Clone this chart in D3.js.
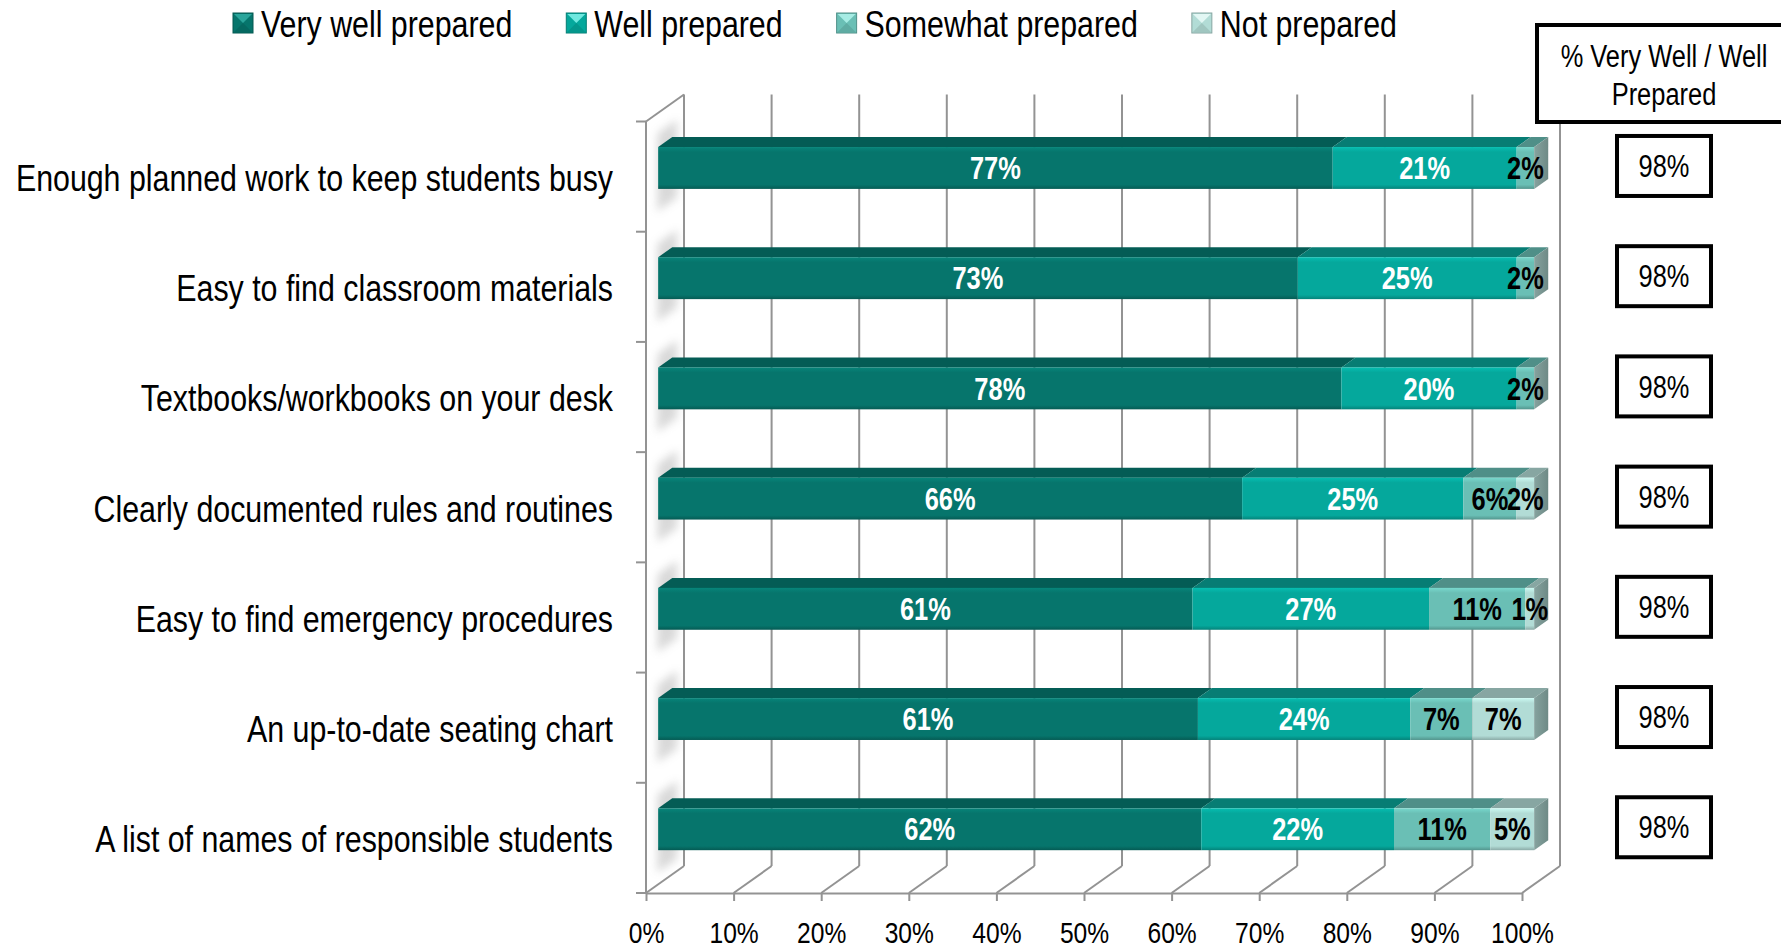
<!DOCTYPE html>
<html>
<head>
<meta charset="utf-8">
<title>Classroom preparedness</title>
<style>
  body { margin: 0; background: #fff; }
  svg { display: block; font-family: "Liberation Sans Narrow", "Arial Narrow", "Liberation Sans", Arial, sans-serif; }
  .grid { stroke: #939393; stroke-width: 2; fill: none; }
  .cat { font-size: 37px; fill: #000; }
  .seg-label { font-size: 31px; font-weight: 700; }
  .legend text { font-size: 37px; fill: #000; }
  .box rect { fill: #fff; stroke: #000; stroke-width: 4; }
  .box text { font-size: 31px; fill: #000; }
  .x-axis text { font-size: 30px; fill: #000; font-family: inherit; }
  .x-axis line, .x-axis path { stroke: #939393; stroke-width: 2; }
</style>
</head>
<body>
<script src="https://cdn.jsdelivr.net/npm/d3@7"></script>
<script>

// ---- data ----
var categories = [
  "Enough planned work to keep students busy",
  "Easy to find classroom materials",
  "Textbooks/workbooks on your desk",
  "Clearly documented rules and routines",
  "Easy to find emergency procedures",
  "An up-to-date seating chart",
  "A list of names of responsible students"
];
var seriesNames = ["Very well prepared", "Well prepared", "Somewhat prepared", "Not prepared"];
var veryWell    = [77, 73, 78, 66, 61, 61, 62];
var well        = [21, 25, 20, 25, 27, 24, 22];
var somewhat    = [2, 2, 2, 6, 11, 7, 11];
var notPrepared = [0, 0, 0, 2, 1, 7, 5];
var combined    = [98, 98, 98, 98, 98, 98, 98];
var boxTitle    = ["% Very Well / Well", "Prepared"];

// ---- styles ----
var frontColors = ["#06756c", "#05a89c", "#6abfb5", "#b2dcd6"];
var topColors   = ["#045c55", "#077d74", "#4f8f88", "#87a6a2"];
var markTop     = ["#2aa59b", "#6fe8df", "#a6ece4", "#e2f7f4"];
var sideColor   = "#6e8a86";
var narrow = 0.82;   // no condensed face installed, so squeeze the regular one

var width = 1781, height = 947;
var depthX = 38, depthY = 27;   // projection of the back wall
var z0 = 0.32, z1 = 0.69;       // bar depth range

var rows = categories.map(function(c, i) {
  var r = { cat: c };
  r[seriesNames[0]] = veryWell[i];
  r[seriesNames[1]] = well[i];
  r[seriesNames[2]] = somewhat[i];
  r[seriesNames[3]] = notPrepared[i];
  return r;
});

var stack = d3.stack().keys(seriesNames).offset(d3.stackOffsetExpand);
var series = stack(rows);

var x = d3.scaleLinear().domain([0, 1]).range([646, 1522]);
var y = d3.scaleBand().domain(categories).range([121.5, 893]).padding(0);
var barH = y.bandwidth() * 0.38;

function px(v, z) { return x(v) + depthX * z; }
function py(yy, z) { return yy - depthY * z; }
function pts(a) { return a.map(function(p) { return p.join(","); }).join(" "); }

var svg = d3.select("body").append("svg")
    .attr("width", width)
    .attr("height", height);

var defs = svg.append("defs");
frontColors.forEach(function(c, i) {
  var g = defs.append("linearGradient").attr("id", "front" + i)
      .attr("x1", 0).attr("y1", 0).attr("x2", 0).attr("y2", 1);
  g.append("stop").attr("offset", "0%").attr("stop-color", d3.color(c).brighter(0.35));
  g.append("stop").attr("offset", "12%").attr("stop-color", c);
  g.append("stop").attr("offset", "90%").attr("stop-color", c);
  g.append("stop").attr("offset", "100%").attr("stop-color", d3.color(c).darker(0.7));
});
var sg = defs.append("linearGradient").attr("id", "side")
    .attr("x1", 0).attr("y1", 0).attr("x2", 1).attr("y2", 0);
sg.append("stop").attr("offset", "0%").attr("stop-color", "#86a39f");
sg.append("stop").attr("offset", "100%").attr("stop-color", sideColor);
defs.append("filter").attr("id", "blur")
    .attr("x", "-50%").attr("y", "-50%").attr("width", "200%").attr("height", "200%")
  .append("feGaussianBlur").attr("stdDeviation", 4);

// ---- walls & grid ----
var grid = svg.append("g");
var ticks = x.ticks(10);
var yTop = y.range()[0], yBot = y.range()[1];

// back wall verticals
grid.selectAll(".back").data(ticks).enter().append("line")
    .attr("class", "grid")
    .attr("x1", function(d) { return px(d, 1); })
    .attr("x2", function(d) { return px(d, 1); })
    .attr("y1", py(yTop, 1))
    .attr("y2", py(yBot, 1));
// floor diagonals
grid.selectAll(".floor").data(ticks).enter().append("line")
    .attr("class", "grid")
    .attr("x1", function(d) { return px(d, 0); })
    .attr("x2", function(d) { return px(d, 1); })
    .attr("y1", yBot)
    .attr("y2", py(yBot, 1));
// left wall
grid.append("line").attr("class", "grid")
    .attr("x1", px(0, 0)).attr("x2", px(0, 0)).attr("y1", yTop).attr("y2", yBot);
grid.append("line").attr("class", "grid")
    .attr("x1", px(0, 0)).attr("x2", px(0, 1)).attr("y1", yTop).attr("y2", py(yTop, 1));
var bounds = categories.map(function(c) { return y(c); }).concat([yBot]);
grid.selectAll(".ltick").data(bounds).enter().append("line")
    .attr("class", "grid")
    .attr("x1", px(0, 0) - 10).attr("x2", px(0, 0))
    .attr("y1", function(d) { return d; }).attr("y2", function(d) { return d; });

// soft shadows of the bars on the left wall
svg.append("g").selectAll("polygon").data(categories).enter().append("polygon")
    .attr("points", function(c) {
      var yc = y(c) + y.bandwidth() / 2;
      var a = yc - barH / 2 - 14, b = yc + barH / 2 + 22;
      return pts([[px(0, 0.3), py(a, 0.3)], [px(0, 0.82), py(a, 0.82)],
                  [px(0, 0.82), py(b, 0.82)], [px(0, 0.3), py(b, 0.3)]]);
    })
    .attr("fill", "#a0a0a0")
    .attr("opacity", 0.4)
    .attr("filter", "url(#blur)");

// x axis
svg.append("g")
    .attr("class", "x-axis")
    .attr("transform", "translate(0," + yBot + ")")
    .call(d3.axisBottom(x).ticks(10).tickFormat(d3.format(".0%")).tickSize(8).tickSizeOuter(0).tickPadding(21));

// ---- bars ----
var barG = svg.append("g");
categories.forEach(function(c, i) {
  var yc = y(c) + y.bandwidth() / 2;
  var yt = py(yc - barH / 2, z0), yb = py(yc + barH / 2, z0);
  var ddx = depthX * (z1 - z0), ddy = depthY * (z1 - z0);
  var g = barG.append("g");
  var lastEnd = 0;
  series.forEach(function(s, k) {
    var d = s[i];
    if (d[1] - d[0] <= 0) return;
    lastEnd = d[1];
    var xa = px(d[0], z0), xb = px(d[1], z0);
    g.append("polygon")
        .attr("points", pts([[xa, yt], [xb, yt], [xb + ddx, yt - ddy], [xa + ddx, yt - ddy]]))
        .attr("fill", topColors[k]);
    g.append("rect")
        .attr("x", xa).attr("y", yt)
        .attr("width", xb - xa).attr("height", yb - yt)
        .attr("fill", "url(#front" + k + ")");
  });
  var xe = px(lastEnd, z0);
  g.append("polygon")
      .attr("points", pts([[xe, yt], [xe + ddx, yt - ddy], [xe + ddx, yb - ddy], [xe, yb]]))
      .attr("fill", "url(#side)");
  // labels
  series.forEach(function(s, k) {
    var d = s[i], v = s[i].data[s.key];
    if (v <= 0) return;
    g.append("text")
        .attr("class", "seg-label")
        .attr("x", (px(d[0], z0) + px(d[1], z0)) / 2)
        .attr("y", (yt + yb) / 2)
        .attr("dy", "0.36em")
        .attr("text-anchor", "middle")
        .attr("fill", k < 2 ? "#fff" : "#000")
        .text(v + "%");
  });
});

// category labels
svg.append("g").selectAll("text").data(categories).enter().append("text")
    .attr("class", "cat")
    .attr("x", 613)
    .attr("y", function(c) { return y(c) + y.bandwidth() / 2 + 1; })
    .attr("dy", "0.36em")
    .attr("text-anchor", "end")
    .text(function(c) { return c; });

// ---- right-hand boxes ----
var head = svg.append("g").attr("class", "box");
head.append("rect").attr("x", 1537).attr("y", 25).attr("width", 270).attr("height", 97);
head.selectAll("text").data(boxTitle).enter().append("text")
    .attr("x", 1664)
    .attr("y", function(d, i) { return 67 + i * 38; })
    .attr("text-anchor", "middle")
    .text(function(d) { return d; });

var boxes = svg.append("g").selectAll("g").data(categories).enter().append("g")
    .attr("class", "box")
    .attr("transform", function(c) {
      var yc = py(y(c) + y.bandwidth() / 2, z0) - 2;
      return "translate(1664," + yc + ")";
    });
boxes.append("rect").attr("x", -47).attr("y", -30).attr("width", 94).attr("height", 60);
boxes.append("text")
    .attr("text-anchor", "middle")
    .attr("dy", "0.36em")
    .text(function(c, i) { return combined[i] + "%"; });

// ---- legend ----
var legend = svg.append("g").attr("class", "legend");
var lx = 233;
seriesNames.forEach(function(name, k) {
  var item = legend.append("g").attr("transform", "translate(" + lx + ",13)");
  item.append("rect").attr("width", 20).attr("height", 20)
      .attr("fill", frontColors[k]).attr("stroke", d3.color(frontColors[k]).darker(0.8)).attr("stroke-width", 1);
  item.append("polygon").attr("points", "1,1 19,1 10,10").attr("fill", markTop[k]);
  item.append("polygon").attr("points", "1,19 19,19 10,10").attr("fill", d3.color(frontColors[k]).darker(0.3));
  var t = item.append("text").attr("x", 28).attr("y", 24).text(name);
  lx += 28 + t.node().getComputedTextLength() * narrow + 54;
});

// squeeze every text to the condensed width of the original face
svg.selectAll("text").each(function() {
  var w = this.getComputedTextLength();
  d3.select(this).attr("textLength", w * narrow).attr("lengthAdjust", "spacingAndGlyphs");
});

</script>
</body>
</html>
